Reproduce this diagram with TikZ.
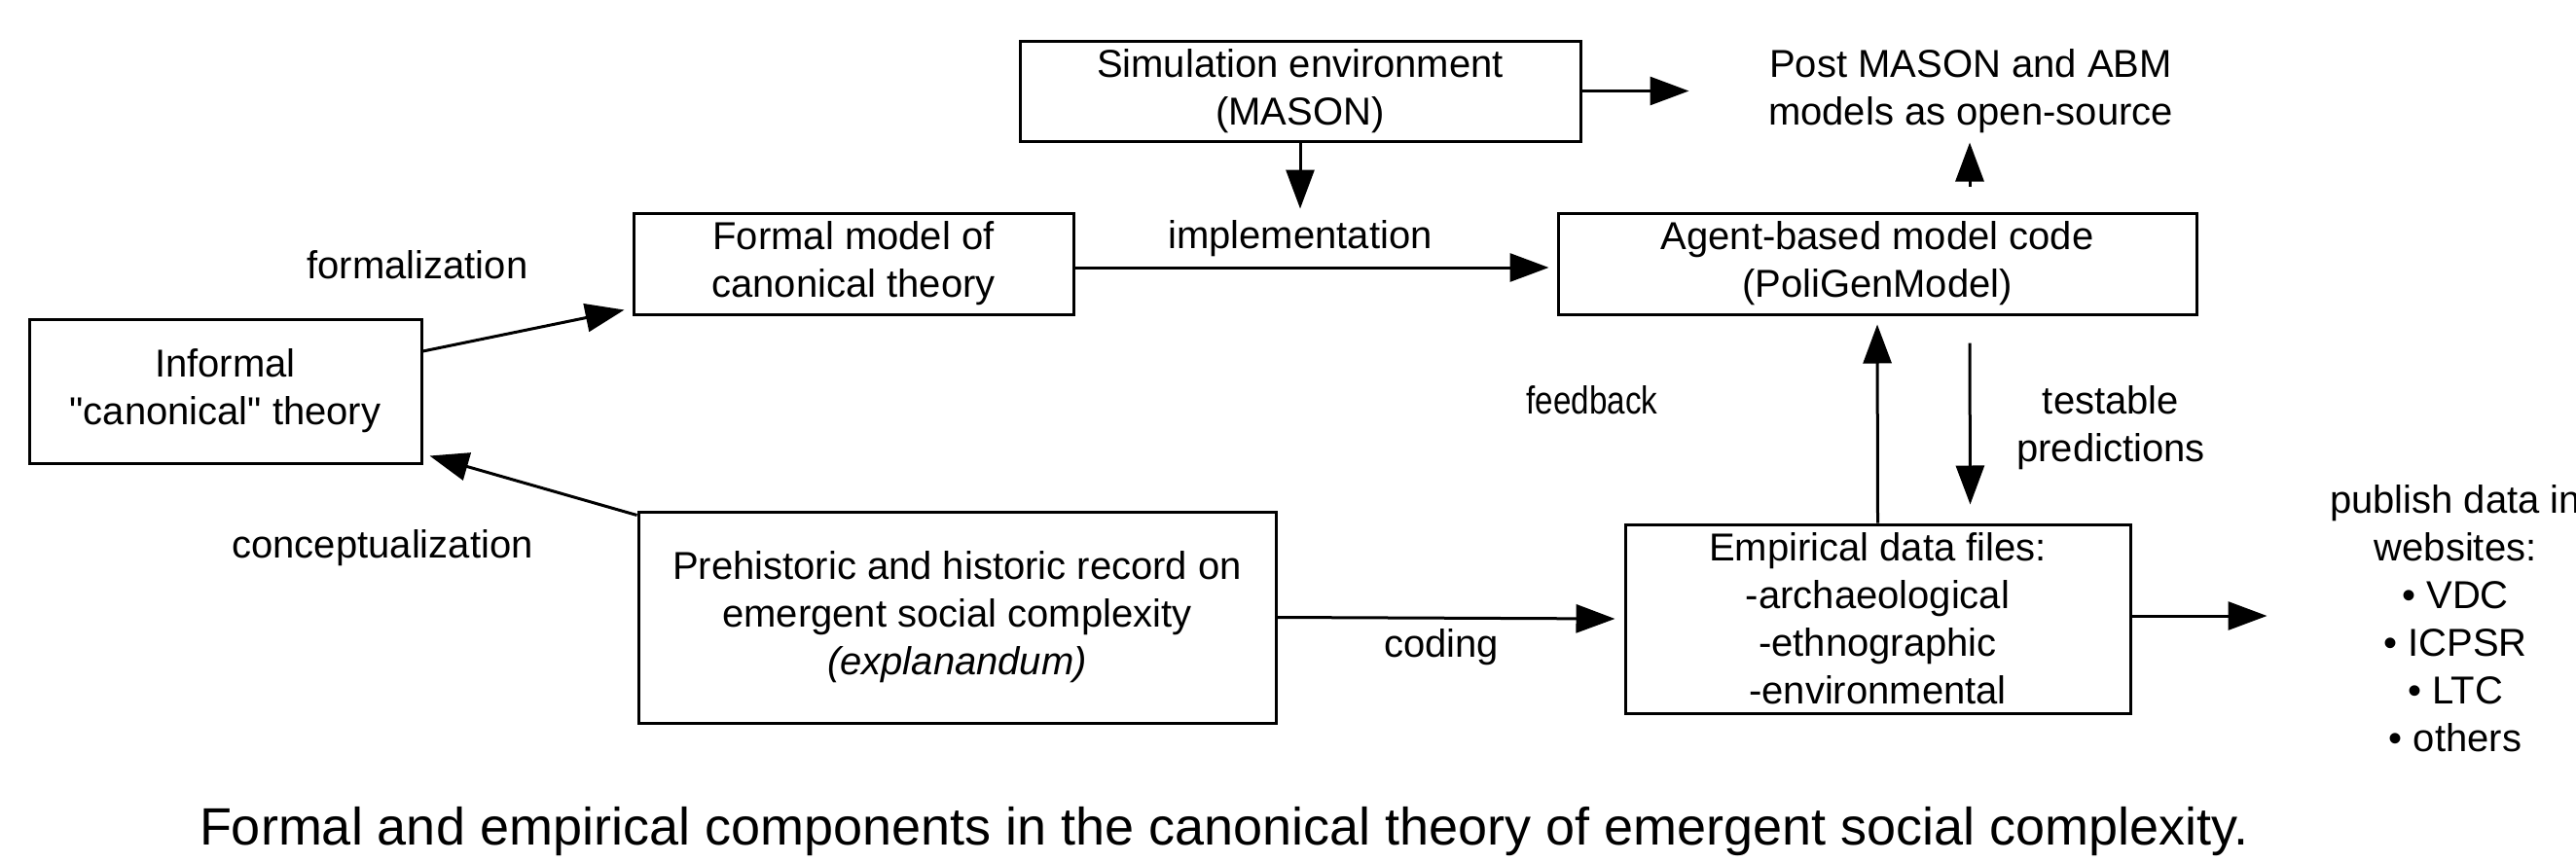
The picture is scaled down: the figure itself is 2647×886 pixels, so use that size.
\documentclass[tikz,border=0pt]{standalone}
\usepackage{fontspec}
\setmainfont{Liberation Sans}
\newfontfamily\narrowsans[FakeStretch=0.83]{Liberation Sans}
% same face without TeX ligature mapping, so " stays a straight quote
\newfontfamily\rawsans{Liberation Sans}
\usetikzlibrary{arrows.meta}

\newcommand{\mainsize}{\fontsize{40}{49}\selectfont}
\newcommand{\capsize}{\fontsize{54}{60}\selectfont}

\tikzset{
  stagebox/.style={draw, line width=3pt, align=center, inner sep=0pt, font=\mainsize},
  plaintext/.style={align=center, inner sep=0pt, font=\mainsize},
  flow/.style={line width=3pt, -{Triangle[length=40pt,width=29pt]}},
}

\begin{document}
\begin{tikzpicture}[x=1pt, y=-1pt]
  % page frame
  \useasboundingbox (0,0) rectangle (2647,886);
  \fill[white] (0,0) rectangle (2647,886);
  \clip (0,0) rectangle (2647,886);

  % boxes
  \node[stagebox, minimum width=576pt, minimum height=103pt] (sim) at (1336,93.5)
    {Simulation environment\\(MASON)};
  \node[stagebox, minimum width=452pt, minimum height=104pt] (formal) at (877,271)
    {Formal model of\\canonical theory};
  \node[stagebox, minimum width=656pt, minimum height=104pt] (agent) at (1929,271)
    {Agent-based model code\\(PoliGenModel)};
  \node[stagebox, minimum width=403pt, minimum height=148pt] (informal) at (231.5,402)
    {Informal\\{\rawsans"canonical"} theory};
  \node[stagebox, minimum width=655pt, minimum height=217pt] (prehist) at (983.5,634.5)
    {Prehistoric and historic record on\\emergent social complexity\\\textit{(explanandum)}};
  \node[stagebox, minimum width=519pt, minimum height=194pt] (empir) at (1929.5,636)
    {Empirical data files:\\-archaeological\\-ethnographic\\-environmental};

  % free text blocks
  \node[plaintext] (post) at (2025,94) {Post MASON and ABM\\models as open-source};
  \node[plaintext] (publish) at (2523,636)
    {publish data in\\websites:\\• VDC\\• ICPSR\\• LTC\\• others};

  % connector labels
  \node[plaintext] (lformal) at (429,272) {formalization};
  \node[plaintext] (lconcept) at (393,563) {conceptualization};
  \node[plaintext] (limpl) at (1336,245) {implementation};
  \node[plaintext] (lcoding) at (1481,665) {coding};
  \node[plaintext, font=\mainsize\narrowsans, anchor=base] (lfeed) at (1636,425) {feedback};
  \node[plaintext] (ltest) at (2169,440) {testable\\predictions};

  % connectors
  \draw[flow] ([yshift=41pt]informal.east) -- ([xshift=-8pt,yshift=6pt]formal.south west);
  \draw[flow] ([yshift=-5pt]prehist.north west) -- ([xshift=7pt,yshift=9pt]informal.south east);
  \draw[flow] (sim.south) -- ++(0,68);
  \draw[flow] (sim.east) -- ++(110,0);
  \draw[flow] ([xshift=95pt,yshift=26pt]agent.north) -- ++(0,-45);
  \draw[flow] ([yshift=-4pt]formal.east) -- ([xshift=-8pt,yshift=-4pt]agent.west);
  \draw[flow] (empir.north) -- ([yshift=-9pt]agent.south);
  \draw[flow] ([xshift=95pt,yshift=-28pt]agent.south) -- ([xshift=95pt,yshift=19pt]empir.north);
  \draw[flow] (prehist.east) -- ([xshift=-9pt]empir.west);
  \draw[flow] ([yshift=3pt]empir.east) -- ++(139,0);

  % caption
  \node[font=\capsize, anchor=base, inner sep=0pt] (caption) at (1258,868)
    {Formal and empirical components in the canonical theory of emergent social complexity.};
\end{tikzpicture}
\end{document}
